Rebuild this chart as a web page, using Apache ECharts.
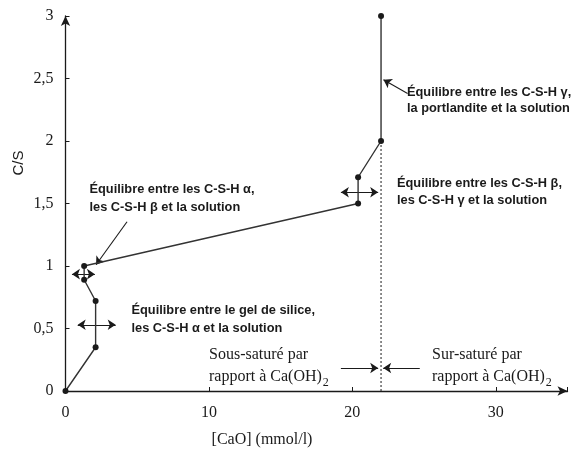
<!DOCTYPE html>
<html>
<head>
<meta charset="utf-8">
<script src="https://cdn.jsdelivr.net/npm/echarts@6/dist/echarts.min.js"></script>
<style>html,body{margin:0;padding:0;background:#fff}#c{width:579px;height:450px}</style>
</head>
<body>
<div id="c"></div>
<script>
// Data
var mainCurve = [[0, 0], [2.1, 0.35], [2.1, 0.72], [1.3, 0.89], [1.3, 1.0], [20.4, 1.5], [20.4, 1.71], [22, 2.0], [22, 3.0]];
var saturationLine = [[22, 2.0], [22, 0]];
var doubleArrows = [
  [[0.45, 0.935], [2.05, 0.935]],
  [[0.85, 0.53], [3.5, 0.53]],
  [[19.2, 1.59], [21.8, 1.59]]
];
var pointerArrows = [
  [[4.29, 1.354], [2.13, 1.01]],
  [[23.85, 2.38], [22.17, 2.49]],
  [[19.2, 0.184], [21.8, 0.184]],
  [[24.7, 0.184], [22.15, 0.184]]
];
var xTicks = [0, 10, 20, 30];
var yTickLabels = {0: '0', 0.5: '0,5', 1: '1', 1.5: '1,5', 2: '2', 2.5: '2,5', 3: '3'};
var annotations = [
  ['Équilibre entre les C-S-H γ,', 'la portlandite et la solution'],
  ['Équilibre entre les C-S-H β,', 'les C-S-H γ et la solution'],
  ['Équilibre entre les C-S-H α,', 'les C-S-H β et la solution'],
  ['Équilibre entre le gel de silice,', 'les C-S-H α et la solution']
];
var satLabels = [['Sous-saturé par', 'rapport à Ca(OH)'], ['Sur-saturé par', 'rapport à Ca(OH)']];
var xName = '[CaO] (mmol/l)';
var yName = 'C/S';

var ink = '#1a1a1a';
var sansBold = 'bold 12.8px "Liberation Sans", Arial, sans-serif';
var serif = '16px "Liberation Serif", "Times New Roman", serif';

var chart = echarts.init(document.getElementById('c'));

function boldLabel(lines, x, y, gap) {
  return lines.map(function (t, i) {
    return {type: 'text', x: x, y: y + i * gap, style: {text: t, font: sansBold, fill: ink, verticalAlign: 'middle'}};
  });
}
function satLabel(lines, x, y) {
  return [
    {type: 'text', x: x, y: y, style: {text: lines[0], font: serif, fill: ink, verticalAlign: 'middle'}},
    {type: 'text', x: x, y: y + 22, style: {
      text: lines[1] + '{sub|2}', font: serif, fill: ink, verticalAlign: 'middle',
      rich: {sub: {fontSize: 12, fontFamily: '"Liberation Serif", serif', verticalAlign: 'bottom', lineHeight: 12, padding: [0, 0, 0, 1]}},
      lineHeight: 23
    }}
  ];
}

var graphics = []
  .concat(boldLabel(annotations[0], 407, 92, 16))
  .concat(boldLabel(annotations[1], 397, 183, 17))
  .concat(boldLabel(annotations[2], 89.5, 189, 18))
  .concat(boldLabel(annotations[3], 131.5, 310, 18))
  .concat(satLabel(satLabels[0], 209, 355))
  .concat(satLabel(satLabels[1], 432, 355))
  .concat([
    {type: 'text', x: 262, y: 440, style: {text: xName, font: serif, fill: ink, align: 'center', verticalAlign: 'middle'}},
    {type: 'text', x: 19, y: 163, rotation: Math.PI / 2, style: {text: yName, font: '15px "Liberation Sans", Arial, sans-serif', fill: ink, align: 'center', verticalAlign: 'middle'}}
  ]);

chart.setOption({
  backgroundColor: '#fff',
  animation: false,
  grid: {left: 65.5, right: 11.5, top: 16, bottom: 59},
  xAxis: {
    type: 'value', min: 0, max: 35, interval: 10,
    axisLine: {show: true, symbol: ['none', 'arrow'], symbolSize: [7, 10], lineStyle: {color: ink, width: 1.3}},
    axisTick: {show: true, inside: true, length: 4, lineStyle: {color: ink}},
    axisLabel: {
      margin: 14, color: ink, fontSize: 16, fontFamily: '"Liberation Serif", serif',
      formatter: function (v) { return xTicks.indexOf(v) >= 0 ? String(v) : ''; }
    },
    splitLine: {show: false}
  },
  yAxis: {
    type: 'value', min: 0, max: 3, interval: 0.5,
    axisLine: {show: true, symbol: ['none', 'arrow'], symbolSize: [7, 10], lineStyle: {color: ink, width: 1.3}},
    axisTick: {show: true, inside: true, length: 4, lineStyle: {color: ink}},
    axisLabel: {
      margin: 12, color: ink, fontSize: 16, fontFamily: '"Liberation Serif", serif',
      formatter: function (v) { return yTickLabels[v] !== undefined ? yTickLabels[v] : ''; }
    },
    splitLine: {show: false}
  },
  graphic: graphics,
  series: [
    {
      type: 'line', data: saturationLine, symbol: 'none', silent: true,
      lineStyle: {color: ink, width: 1, type: [2, 2]}
    },
    {
      type: 'line', data: mainCurve, symbol: 'circle', symbolSize: 6, silent: true,
      itemStyle: {color: ink}, lineStyle: {color: '#333', width: 1.4}
    },
    {
      type: 'lines', coordinateSystem: 'cartesian2d', silent: true,
      symbol: ['arrow', 'arrow'], symbolSize: 8,
      lineStyle: {color: ink, width: 1.2, opacity: 1},
      data: doubleArrows.map(function (c) { return {coords: c}; })
    },
    {
      type: 'lines', coordinateSystem: 'cartesian2d', silent: true,
      symbol: ['none', 'arrow'], symbolSize: 8,
      lineStyle: {color: ink, width: 1.1, opacity: 1},
      data: pointerArrows.map(function (c) { return {coords: c}; })
    }
  ]
});
</script>
</body>
</html>
